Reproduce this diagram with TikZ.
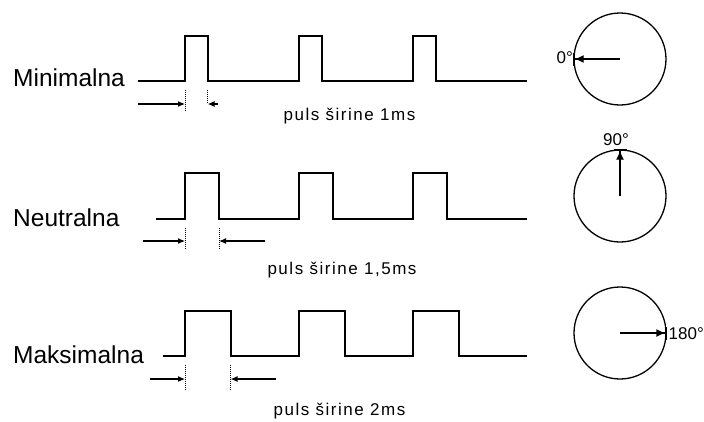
\documentclass[tikz,border=0pt]{standalone}
\usepackage{fontspec}
\setmainfont{Liberation Sans}
\newfontfamily\pulsfont[LetterSpace=9]{Liberation Sans}
\usetikzlibrary{arrows.meta}

\tikzset{
  sig/.style={line width=2pt, line join=miter},
  guide/.style={densely dotted, line width=1pt},
  dim/.style={line width=1.1pt, -{Latex[length=7pt,width=6pt]}},
  dial/.style={circle, draw, line width=1.3pt, minimum size=92pt, inner sep=0pt},
  needle/.style={line width=1.3pt, -{Latex[length=9pt,width=8pt] Bar[width=13pt,line width=1.3pt]}},
  lbl/.style={font=\fontsize{24.5}{28}\selectfont, inner sep=0pt},
  puls/.style={font=\fontsize{17}{20}\pulsfont, inner sep=0pt},
  deg/.style={font=\fontsize{17}{20}\selectfont, inner sep=0pt}
}

\begin{document}
\begin{tikzpicture}[x=1pt, y=-1pt]
    \useasboundingbox (0,0) rectangle (704,421);

    %minimalna
    \node[lbl, anchor=base west] (min) at (13,86) {Minimalna};
    \draw[sig] (138,81) -- (185,81) -- (185,36) -- (207.7,36) -- (207.7,81)
        -- (299,81) -- (299,36) -- (321.7,36) -- (321.7,81)
        -- (413,81) -- (413,36) -- (435.7,36) -- (435.7,81) -- (527,81);
    \draw[guide] (185,90) -- (185,111);
    \draw[guide] (207.7,90) -- (207.7,104);
    \draw[dim] (138,104) -- (185,104);
    \draw[dim] (218,104) -- (207.7,104);
    \node[puls, anchor=base] (t1) at (349.5,120) {puls širine 1ms};

    %neutralna
    \node[lbl, anchor=base west] (neu) at (13,226) {Neutralna};
    \draw[sig] (156,219) -- (185,219) -- (185,173) -- (219,173) -- (219,219)
        -- (299,219) -- (299,173) -- (333,173) -- (333,219)
        -- (413,219) -- (413,173) -- (447,173) -- (447,219) -- (527,219);
    \draw[guide] (185,228) -- (185,249);
    \draw[guide] (219,228) -- (219,249);
    \draw[dim] (143,241) -- (185,241);
    \draw[dim] (265,241) -- (219,241);
    \node[puls, anchor=base] (t2) at (342,274) {puls širine 1,5ms};

    %maksimalna
    \node[lbl, anchor=base west] (max) at (13,363) {Maksimalna};
    \draw[sig] (163,356) -- (185,356) -- (185,311) -- (230.5,311) -- (230.5,356)
        -- (299,356) -- (299,311) -- (344.5,311) -- (344.5,356)
        -- (413,356) -- (413,311) -- (458.5,311) -- (458.5,356) -- (527,356);
    \draw[guide] (185,365) -- (185,390);
    \draw[guide] (230.5,365) -- (230.5,390);
    \draw[dim] (150,379) -- (185,379);
    \draw[dim] (276,379) -- (230.5,379);
    \node[puls, anchor=base] (t3) at (339.5,415) {puls širine 2ms};

    %kazaljke
    \node[dial] (d1) at (620,59) {};
    \draw[needle] (d1.center) -- (d1.west);
    \node[deg, anchor=base east] (g1) at (573,63) {0°};

    \node[dial] (d2) at (620,196) {};
    \draw[needle] (d2.center) -- (d2.north);
    \node[deg, anchor=base] (g2) at (616,145) {90°};

    \node[dial] (d3) at (620,333) {};
    \draw[needle] (d3.center) -- (d3.east);
    \node[deg, anchor=base west] (g3) at (668.5,339) {180°};
\end{tikzpicture}
\end{document}
